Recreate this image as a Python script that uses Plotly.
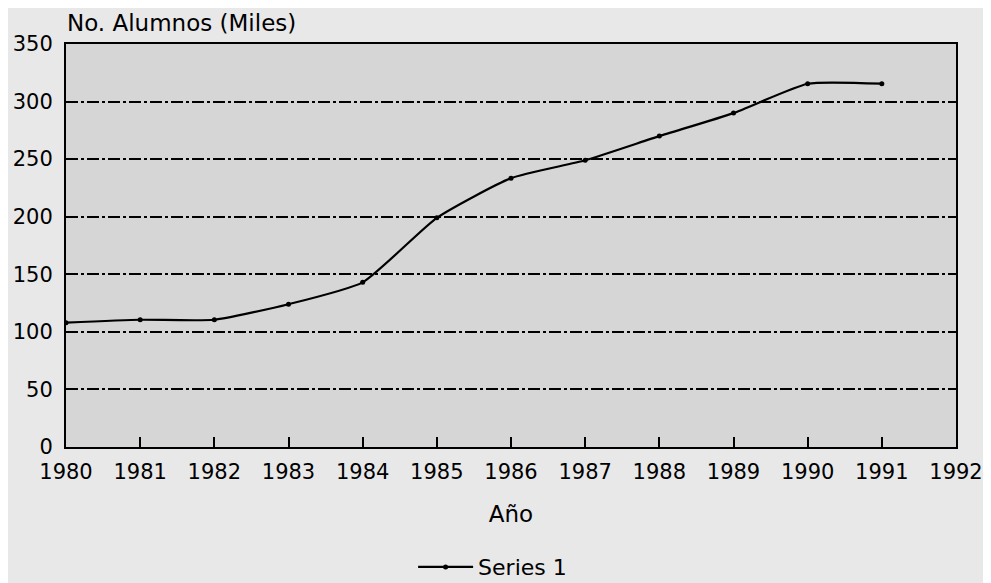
import plotly.graph_objects as go

years = [1980, 1981, 1982, 1983, 1984, 1985, 1986, 1987, 1988, 1989, 1990, 1991]
alumnos = [108, 110.5, 110.5, 124, 143, 199, 233.5, 249, 270, 290, 315.5, 315.5]
x_ticks = list(range(1980, 1993))
y_ticks = [0, 50, 100, 150, 200, 250, 300, 350]

FONT = "DejaVu Sans"

fig = go.Figure()
fig.add_trace(go.Scatter(
    x=years, y=alumnos, name="Series 1",
    mode="lines+markers",
    line=dict(color="black", width=2.2, shape="spline", smoothing=0.5),
    marker=dict(color="black", size=5),
))

fig.update_layout(
    width=991, height=583,
    margin=dict(l=58, r=43, t=36, b=144, autoexpand=False),
    paper_bgcolor="#e8e8e8",
    plot_bgcolor="#d6d6d6",
    font=dict(family=FONT, size=21, color="black"),
    showlegend=True,
    legend=dict(orientation="h", x=0.39, xanchor="left",
                y=0.041, yref="container", yanchor="middle",
                itemwidth=55,
                bgcolor="rgba(0,0,0,0)", font=dict(size=22, family=FONT)),
    xaxis=dict(
        range=[1980, 1992], tickmode="array", tickvals=x_ticks,
        ticks="inside", ticklen=10, tickwidth=1.5, tickcolor="black",
        ticklabelstandoff=5, automargin=False,
        showgrid=False, zeroline=False,
        showline=True, linecolor="black", linewidth=2, mirror=True,
        tickfont=dict(size=21, family=FONT),
        title=dict(text="Año", font=dict(size=23, family=FONT), standoff=23),
    ),
    yaxis=dict(
        range=[0, 350], tickmode="array", tickvals=y_ticks,
        showgrid=True, gridcolor="black", gridwidth=1.5, griddash="12px,3px,3px,3px",
        zeroline=False, ticks="", ticklabelstandoff=7, automargin=False,
        showline=True, linecolor="black", linewidth=2, mirror=True,
        tickfont=dict(size=21, family=FONT),
    ),
    annotations=[dict(
        text="No. Alumnos (Miles)", xref="paper", yref="paper",
        x=0, y=1, xanchor="left", yanchor="bottom", yshift=6, xshift=-1,
        showarrow=False, font=dict(size=23, family=FONT, color="black"),
    )],
)

fig.write_html("out.html")
